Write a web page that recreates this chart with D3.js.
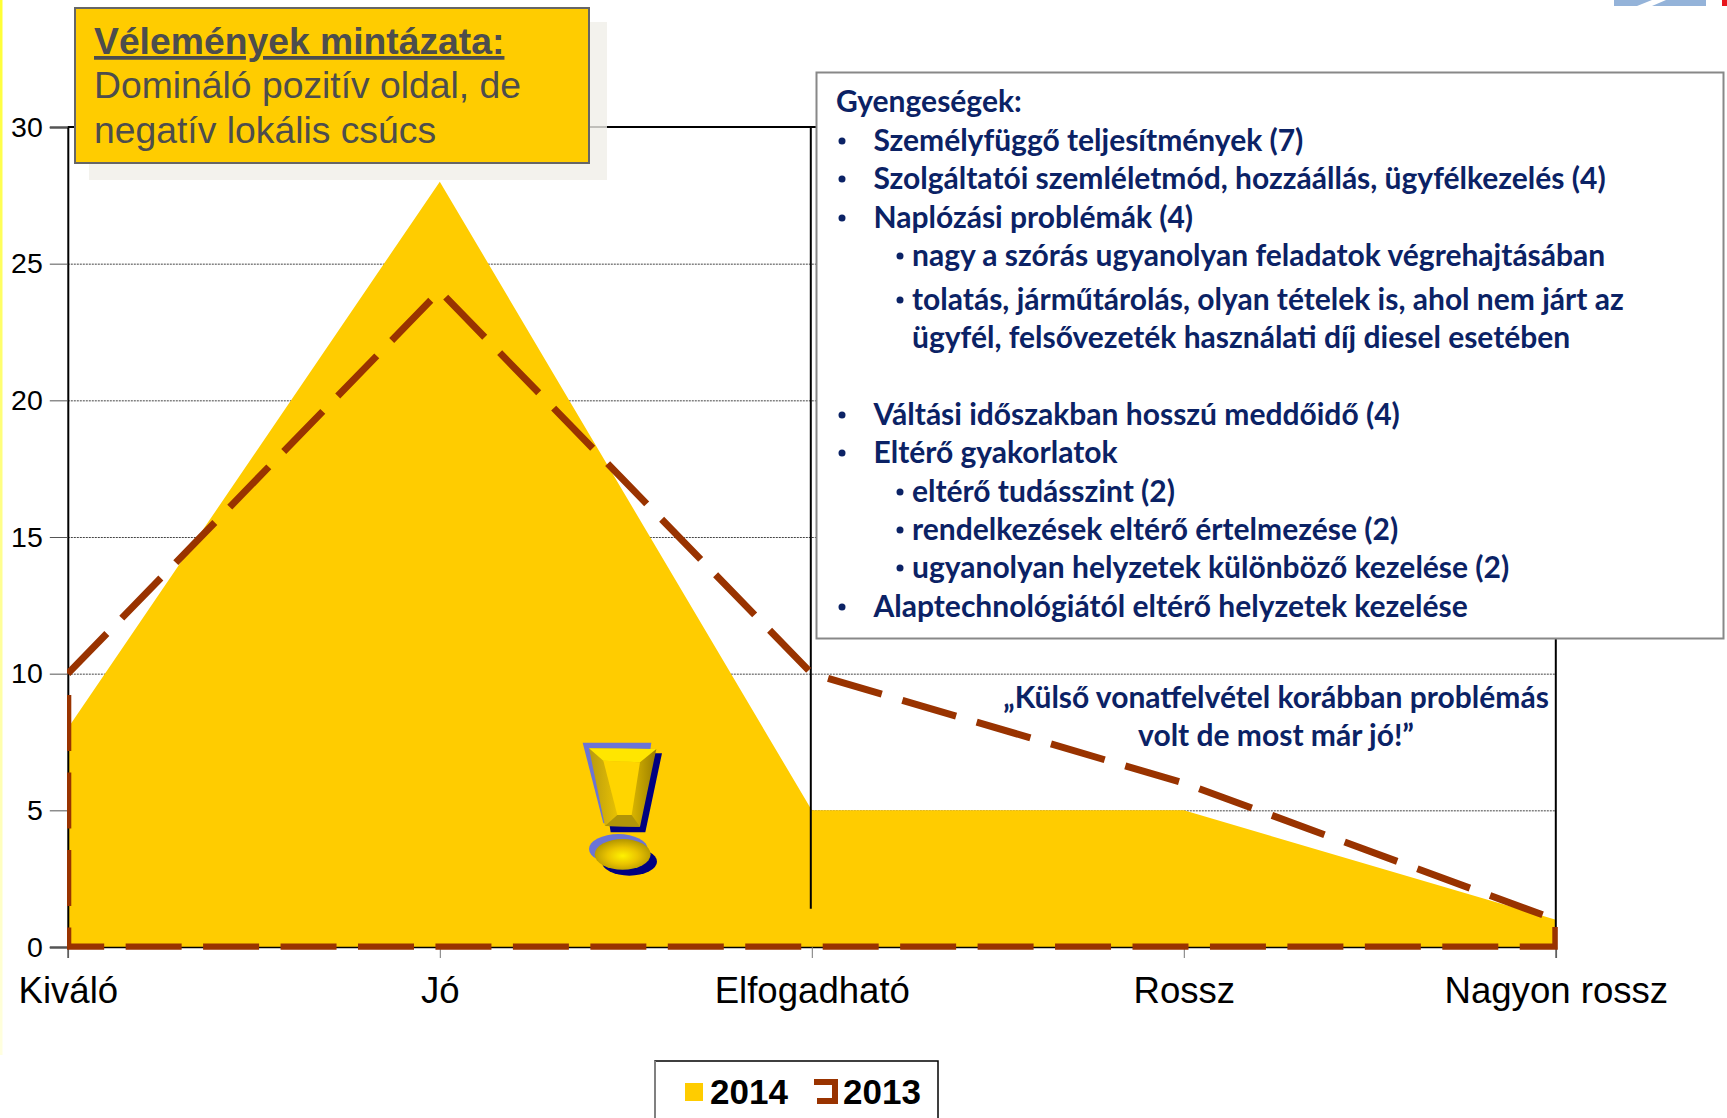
<!DOCTYPE html>
<html>
<head>
<meta charset="utf-8">
<style>
body { margin: 0; background: #fff; }
svg { display: block; }
text { font-family: "Liberation Sans", Arial, sans-serif; }
.note { font-family: Lato, "Open Sans", sans-serif; font-weight: 700; fill: #0b2265; }
</style>
</head>
<body>
<div id="chart"></div>
<script src="https://cdn.jsdelivr.net/npm/d3@7"></script>
<script>
const categories = ["Kiváló", "Jó", "Elfogadható", "Rossz", "Nagyon rossz"];
const values2014 = [8, 28, 5, 5, 1];
const values2013 = [10, 24, 10, 6, 1];
const yTicks = [0, 5, 10, 15, 20, 25, 30];
const legendLabels = ["2014", "2013"];

const calloutTitle = "Vélemények mintázata:";
const calloutLines = ["Domináló pozitív oldal, de", "negatív lokális csúcs"];

const noteLines = [
  "Gyengeségek:",
  "Személyfüggő teljesítmények (7)",
  "Szolgáltatói szemléletmód, hozzáállás, ügyfélkezelés (4)",
  "Naplózási problémák (4)",
  "nagy a szórás ugyanolyan feladatok végrehajtásában",
  "tolatás, járműtárolás, olyan tételek is, ahol nem járt az",
  "ügyfél, felsővezeték használati díj diesel esetében",
  "Váltási időszakban hosszú meddőidő (4)",
  "Eltérő gyakorlatok",
  "eltérő tudásszint (2)",
  "rendelkezések eltérő értelmezése (2)",
  "ugyanolyan helyzetek különböző kezelése (2)",
  "Alaptechnológiától eltérő helyzetek kezelése"
];
const noteLevels = [0, 1, 1, 1, 2, 2, 3, 1, 1, 2, 2, 2, 1];
const noteBaselines = [112, 151, 189, 228, 266, 310, 348, 425, 463, 502, 540, 578, 617];
const remarkLines = ["„Külső vonatfelvétel korábban problémás", "volt de most már jó!”"];

const svg = d3.select("#chart").append("svg").attr("width", 1727).attr("height", 1118);
const defs = svg.append("defs");

// Scales
const x = d3.scalePoint().domain(categories).range([67.8, 1555.8]);
const y = d3.scaleLinear().domain([0, 30]).range([947, 127]);

// slide leftovers: yellow edge and logo corner
const edge = defs.append("linearGradient").attr("id", "edge").attr("x2", 0).attr("y2", 1);
edge.append("stop").attr("offset", 0).attr("stop-color", "#ffff33");
edge.append("stop").attr("offset", 1).attr("stop-color", "#ffffe0");
svg.append("rect").attr("width", 2.5).attr("height", 1055).attr("fill", "url(#edge)");
svg.append("path").attr("d", "M1614 0H1652L1637 6H1614Z").attr("fill", "#94b3d9");
svg.append("path").attr("d", "M1666 0H1706V6H1652Z").attr("fill", "#94b3d9");
svg.append("rect").attr("x", 1722).attr("width", 5).attr("height", 6).attr("fill", "#e8141c");

// Gridlines
svg.append("g")
  .attr("transform", `translate(${x.range()[0]},0)`)
  .call(d3.axisLeft(y).tickValues(yTicks.slice(1, -1)).tickSize(-(x.range()[1] - x.range()[0])).tickFormat(""))
  .call(g => g.select(".domain").remove())
  .selectAll("line")
  .attr("stroke", "#444")
  .attr("stroke-dasharray", "2 1");

// 2014 area
const area = d3.area()
  .x((d, i) => x(categories[i]))
  .y0(y(0))
  .y1(d => y(d));

svg.append("path")
  .datum(values2014)
  .attr("fill", "#ffcc00")
  .attr("d", area);

// Frame: top, right and the stray line at Elfogadható
const frame = svg.append("g").attr("stroke", "#000").attr("stroke-width", 2);
frame.append("line").attr("x1", x.range()[0]).attr("x2", x.range()[1]).attr("y1", y(30)).attr("y2", y(30));
frame.append("line").attr("x1", x.range()[1]).attr("x2", x.range()[1]).attr("y1", y(30)).attr("y2", y(0));
frame.append("line").attr("x1", x("Elfogadható") - 1).attr("x2", x("Elfogadható") - 1).attr("y1", y(30)).attr("y2", y(1.4));

// Y axis
const yAxis = svg.append("g")
  .attr("transform", `translate(${x.range()[0]},0)`)
  .call(d3.axisLeft(y).tickValues(yTicks).tickSize(18).tickPadding(7));
yAxis.select(".domain").attr("stroke", "#000").attr("stroke-width", 2);
yAxis.selectAll("line").attr("stroke", "#555");
yAxis.selectAll("text")
  .style("font-family", '"Liberation Sans", Arial, sans-serif')
  .style("font-size", "28.5px")
  .attr("fill", "#000");

// X axis
const xAxis = svg.append("g")
  .attr("transform", `translate(0,${y(0)})`)
  .call(d3.axisBottom(x).tickSize(11).tickPadding(19));
xAxis.select(".domain").attr("stroke", "#000").attr("stroke-width", 1.5);
xAxis.selectAll("line").attr("stroke", "#777");
xAxis.selectAll("text")
  .style("font-family", '"Liberation Sans", Arial, sans-serif')
  .style("font-size", "36.6px")
  .attr("fill", "#000");

// 2013 outline, closed so the dashes run round the whole shape
defs.append("clipPath").attr("id", "plotClip")
  .append("rect").attr("x", 67).attr("y", 100).attr("width", 1490.8).attr("height", 849.8);

svg.append("path")
  .datum(values2013)
  .attr("fill", "none")
  .attr("stroke", "#993300")
  .attr("stroke-width", 7)
  .attr("stroke-dasharray", "56 21.45")
  .attr("clip-path", "url(#plotClip)")
  .attr("d", area);

// Exclamation mark
const bevel = (id, c1, c2, c3) => {
  const g = defs.append("linearGradient").attr("id", id);
  g.append("stop").attr("offset", 0).attr("stop-color", c1);
  g.append("stop").attr("offset", 0.5).attr("stop-color", c2);
  g.append("stop").attr("offset", 1).attr("stop-color", c3);
};
bevel("bevelSide", "#b89a10", "#f0c800", "#9a7e00");
const dotFill = defs.append("radialGradient").attr("id", "dotFill").attr("cy", 0.55).attr("r", 0.6);
dotFill.append("stop").attr("offset", 0).attr("stop-color", "#fff200");
dotFill.append("stop").attr("offset", 0.45).attr("stop-color", "#eac400");
dotFill.append("stop").attr("offset", 1).attr("stop-color", "#a88c00");

const mark = svg.append("g").attr("transform", "translate(540,700) scale(0.3333)");
mark.append("path").attr("d", "M128 128H334L300 370H190Z").attr("fill", "#6b74d6");
mark.append("path").attr("d", "M175 160H366L316 397H212Z").attr("fill", "#000080");
mark.append("path").attr("d", "M147 145L349 147L300 380L195 378Z").attr("fill", "url(#bevelSide)");
mark.append("path").attr("d", "M147 145L349 147L300 187L190 182Z").attr("fill", "#ffe600");
mark.append("path").attr("d", "M195 378L232 345H275L300 380Z").attr("fill", "#b09408");
mark.append("path").attr("d", "M190 182L300 187L275 345L232 345Z").attr("fill", "#ffd500");
mark.append("ellipse").attr("cx", 235).attr("cy", 447).attr("rx", 88).attr("ry", 45).attr("fill", "#6b74d6");
mark.append("ellipse").attr("cx", 268).attr("cy", 485).attr("rx", 83).attr("ry", 42).attr("fill", "#000080");
mark.append("ellipse").attr("cx", 248).attr("cy", 463).attr("rx", 84).attr("ry", 46).attr("fill", "url(#dotFill)");

// Callout box with shadow
svg.append("rect")
  .attr("x", 89).attr("y", 22).attr("width", 518).attr("height", 158)
  .attr("fill", "#f0efe9").attr("opacity", 0.8);
svg.append("rect")
  .attr("x", 75).attr("y", 8).attr("width", 514).attr("height", 155)
  .attr("fill", "#ffcc00").attr("stroke", "#666").attr("stroke-width", 2);
svg.append("text")
  .attr("x", 94).attr("y", 54)
  .attr("font-size", 37.3).attr("font-weight", 700).attr("fill", "#4d4d4d")
  .attr("text-decoration", "underline")
  .text(calloutTitle);
svg.selectAll(".callout-line")
  .data(calloutLines)
  .enter().append("text")
  .attr("class", "callout-line")
  .attr("x", 94)
  .attr("y", (d, i) => 98 + i * 44.5)
  .attr("font-size", 37.3).attr("fill", "#4d4d4d")
  .text(d => d);

// Weaknesses panel
svg.append("rect")
  .attr("x", 816.5).attr("y", 72.5).attr("width", 907).attr("height", 566)
  .attr("fill", "#fff").attr("stroke", "#888").attr("stroke-width", 2);

const levelX = [836, 873.5, 912, 912];
const note = svg.selectAll(".note-line")
  .data(noteLines)
  .enter().append("g")
  .attr("class", "note-line");
note.append("text")
  .attr("class", "note")
  .attr("x", (d, i) => levelX[noteLevels[i]])
  .attr("y", (d, i) => noteBaselines[i])
  .attr("font-size", 30)
  .text(d => d);
note.filter((d, i) => noteLevels[i] === 1 || noteLevels[i] === 2)
  .append("circle")
  .attr("cx", d => noteLevels[noteLines.indexOf(d)] === 1 ? 842 : 900)
  .attr("cy", d => noteBaselines[noteLines.indexOf(d)] - 10)
  .attr("r", 3.5)
  .attr("fill", "#0b2265");

// Remark over the chart
svg.selectAll(".remark")
  .data(remarkLines)
  .enter().append("text")
  .attr("class", "note remark")
  .attr("x", 1276)
  .attr("y", (d, i) => 708 + i * 38)
  .attr("text-anchor", "middle")
  .attr("font-size", 30)
  .text(d => d);

// Legend
svg.append("rect").attr("x", 655).attr("y", 1061).attr("width", 283).attr("height", 60).attr("fill", "#fff").attr("stroke", "#000").attr("stroke-width", 1.5);
svg.append("line").attr("x1", 655).attr("x2", 655).attr("y1", 1061).attr("y2", 1118).attr("stroke", "#808080").attr("stroke-width", 2);
svg.append("rect").attr("x", 685).attr("y", 1083).attr("width", 18).attr("height", 18).attr("fill", "#ffcc00");
svg.append("path").attr("d", "M814 1082H835V1101H817").attr("fill", "none").attr("stroke", "#993300").attr("stroke-width", 6);
svg.selectAll(".legend-label")
  .data(legendLabels)
  .enter().append("text")
  .attr("class", "legend-label")
  .attr("x", (d, i) => i === 0 ? 710 : 843)
  .attr("y", 1104)
  .attr("font-size", 35).attr("font-weight", 700).attr("fill", "#000")
  .text(d => d);
</script>
</body>
</html>
